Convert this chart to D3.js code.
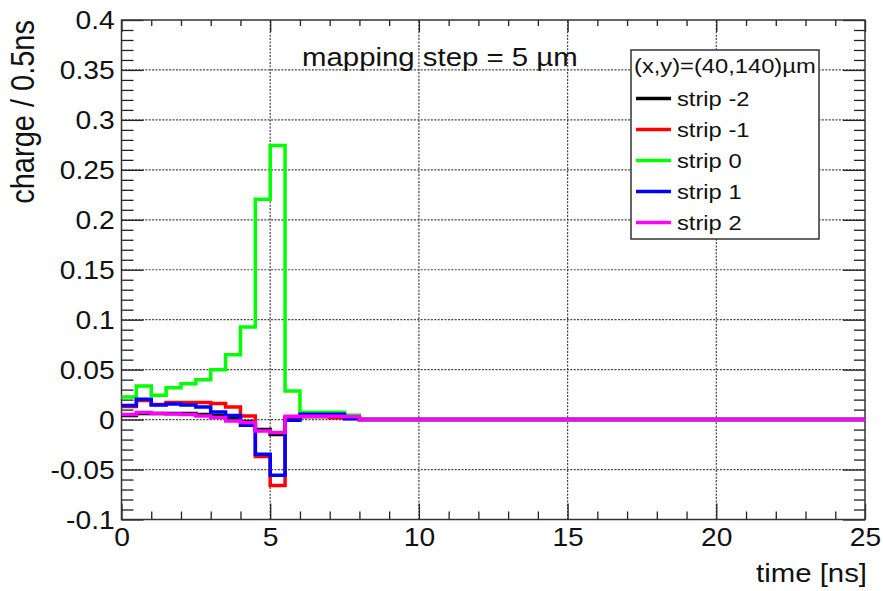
<!DOCTYPE html>
<html>
<head>
<meta charset="utf-8">
<script src="https://cdn.jsdelivr.net/npm/d3@7"></script>
<style>
  body { margin: 0; background: #fff; }
  text { font-family: "Liberation Sans", Arial, sans-serif; fill: #111; }
</style>
</head>
<body>
<div class="chart"></div>
<script>
// histogram contents, one value per 0.5 ns bin (0..25 ns)
const binWidth = 0.5;
const stripNames = ["strip -2", "strip -1", "strip 0", "strip 1", "strip 2"];
const stripColors = ["#000000", "#ff0000", "#00ff00", "#0000ff", "#ff00ff"];

const stripM2 = [0.004, 0.006, 0.006, 0.006, 0.006, 0.005, 0.004, 0.001, -0.002, -0.010,
  -0.015, 0.002, 0.003, 0.003, 0.002, 0.001, 0, 0, 0, 0,
  0, 0, 0, 0, 0, 0, 0, 0, 0, 0,
  0, 0, 0, 0, 0, 0, 0, 0, 0, 0,
  0, 0, 0, 0, 0, 0, 0, 0, 0, 0];
const stripM1 = [0.013, 0.019, 0.015, 0.017, 0.017, 0.017, 0.016, 0.0126, 0.0036, -0.037,
  -0.066, 0.001, 0.003, 0.003, 0.002, 0.001, 0, 0, 0, 0,
  0, 0, 0, 0, 0, 0, 0, 0, 0, 0,
  0, 0, 0, 0, 0, 0, 0, 0, 0, 0,
  0, 0, 0, 0, 0, 0, 0, 0, 0, 0];
const strip0 = [0.0226, 0.0336, 0.0243, 0.032, 0.036, 0.040, 0.050, 0.065, 0.0926, 0.2206,
  0.2743, 0.0286, 0.0073, 0.0073, 0.0073, 0.0043, 0, 0, 0, 0,
  0, 0, 0, 0, 0, 0, 0, 0, 0, 0,
  0, 0, 0, 0, 0, 0, 0, 0, 0, 0,
  0, 0, 0, 0, 0, 0, 0, 0, 0, 0];
const stripP1 = [0.014, 0.0203, 0.0145, 0.0155, 0.0145, 0.0126, 0.0076, 0.004, -0.0057, -0.0347,
  -0.0557, -0.0007, 0.0053, 0.0053, 0.0053, 0.001, 0, 0, 0, 0,
  0, 0, 0, 0, 0, 0, 0, 0, 0, 0,
  0, 0, 0, 0, 0, 0, 0, 0, 0, 0,
  0, 0, 0, 0, 0, 0, 0, 0, 0, 0];
const stripP2 = [0.005, 0.007, 0.006, 0.0055, 0.005, 0.0035, 0.002, -0.0015, -0.003, -0.0113,
  -0.013, 0.0033, 0.0033, 0.0033, 0.0033, 0.003, 0, 0, 0, 0,
  0, 0, 0, 0, 0, 0, 0, 0, 0, 0,
  0, 0, 0, 0, 0, 0, 0, 0, 0, 0,
  0, 0, 0, 0, 0, 0, 0, 0, 0, 0];

const xMajor = [0, 5, 10, 15, 20, 25];
const xMinor = [1, 2, 3, 4, 6, 7, 8, 9, 11, 12, 13, 14, 16, 17, 18, 19, 21, 22, 23, 24];
const yMajor = [-0.1, -0.05, 0, 0.05, 0.1, 0.15, 0.2, 0.25, 0.3, 0.35, 0.4];
const yMinor = [-0.09, -0.08, -0.07, -0.06, -0.04, -0.03, -0.02, -0.01,
  0.01, 0.02, 0.03, 0.04, 0.06, 0.07, 0.08, 0.09, 0.11, 0.12, 0.13, 0.14,
  0.16, 0.17, 0.18, 0.19, 0.21, 0.22, 0.23, 0.24, 0.26, 0.27, 0.28, 0.29,
  0.31, 0.32, 0.33, 0.34, 0.36, 0.37, 0.38, 0.39];

const series = [stripM2, stripM1, strip0, stripP1, stripP2];

// the original picture is a bit wider than tall, text is stretched the same way
const stretch = "scale(1.13,1)";

const width = 883, height = 591;
const margin = {top: 20, right: 18, bottom: 71.5, left: 121.5};

const svg = d3.select(".chart").append("svg")
  .attr("width", width)
  .attr("height", height);

svg.append("rect").attr("width", width).attr("height", height).attr("fill", "#fff");

const x = d3.scaleLinear().domain([0, 25]).range([margin.left, width - margin.right]);
const y = d3.scaleLinear().domain([-0.1, 0.4]).range([height - margin.bottom, margin.top]);

// grid
const grid = svg.append("g")
  .attr("stroke", "#444")
  .attr("stroke-width", 1.2)
  .attr("stroke-dasharray", "2,1.4");
grid.selectAll(".gx").data(xMajor.slice(1, -1)).join("line")
  .attr("x1", d => x(d)).attr("x2", d => x(d))
  .attr("y1", y(-0.1)).attr("y2", y(0.4));
grid.selectAll(".gy").data(yMajor.slice(1, -1)).join("line")
  .attr("x1", x(0)).attr("x2", x(25))
  .attr("y1", d => y(d)).attr("y2", d => y(d));

// axes, ROOT style: ticks pointing inside
const fmt = d => String(+d.toFixed(2));

function styleAxis(g) {
  g.select(".domain").remove();
  g.selectAll("line").attr("stroke", "#222").attr("stroke-width", 1.3);
}

svg.append("g").attr("transform", `translate(0,${y(-0.1)})`)
  .call(d3.axisBottom(x).tickValues(xMinor).tickSize(-8).tickFormat(""))
  .call(styleAxis);
svg.append("g").attr("transform", `translate(0,${y(-0.1)})`)
  .call(d3.axisBottom(x).tickValues(xMajor).tickSize(-16).tickPadding(9).tickFormat(fmt))
  .call(styleAxis)
  .call(g => g.selectAll("text")
    .attr("font-size", 25)
    .attr("transform", stretch));

svg.append("g").attr("transform", `translate(0,${y(0.4)})`)
  .call(d3.axisTop(x).tickValues(xMinor).tickSize(-6).tickFormat(""))
  .call(styleAxis);
svg.append("g").attr("transform", `translate(0,${y(0.4)})`)
  .call(d3.axisTop(x).tickValues(xMajor).tickSize(-12).tickFormat(""))
  .call(styleAxis);

svg.append("g").attr("transform", `translate(${x(0)},0)`)
  .call(d3.axisLeft(y).tickValues(yMinor).tickSize(-12).tickFormat(""))
  .call(styleAxis);
svg.append("g").attr("transform", `translate(${x(0)},0)`)
  .call(d3.axisLeft(y).tickValues(yMajor).tickSize(-22).tickPadding(6).tickFormat(fmt))
  .call(styleAxis)
  .call(g => g.selectAll("text")
    .attr("font-size", 25)
    .attr("dy", "0.34em")
    .attr("transform", stretch));

svg.append("g").attr("transform", `translate(${x(25)},0)`)
  .call(d3.axisRight(y).tickValues(yMinor).tickSize(-11).tickFormat(""))
  .call(styleAxis);
svg.append("g").attr("transform", `translate(${x(25)},0)`)
  .call(d3.axisRight(y).tickValues(yMajor).tickSize(-22).tickFormat(""))
  .call(styleAxis);

// frame
svg.append("rect")
  .attr("x", x(0)).attr("y", y(0.4))
  .attr("width", x(25) - x(0)).attr("height", y(-0.1) - y(0.4))
  .attr("fill", "none").attr("stroke", "#333").attr("stroke-width", 1.5);

// histograms as step outlines
const line = d3.line()
  .x(d => x(d[0]))
  .y(d => y(d[1]))
  .curve(d3.curveStepAfter);

series.forEach(function(vals, k) {
  const pts = vals.map((v, i) => [i * binWidth, v]);
  pts.push([vals.length * binWidth, vals[vals.length - 1]]);
  svg.append("path")
    .datum(pts)
    .attr("fill", "none")
    .attr("stroke", stripColors[k])
    .attr("stroke-width", 3.5)
    .attr("d", line);
});

// titles
svg.append("text")
  .attr("transform", `translate(867,582) ${stretch}`)
  .attr("text-anchor", "end")
  .attr("font-size", 26)
  .text("time [ns]");

svg.append("text")
  .attr("transform", `translate(34,20) ${stretch} rotate(-90)`)
  .attr("text-anchor", "end")
  .attr("font-size", 29)
  .text("charge / 0.5ns");

svg.append("text")
  .attr("transform", `translate(302,66) ${stretch}`)
  .attr("font-size", 26)
  .text("mapping step = 5 µm");

// legend
const legend = svg.append("g").attr("transform", "translate(631,50)");
legend.append("rect")
  .attr("width", 188).attr("height", 189)
  .attr("fill", "#fff").attr("stroke", "#333").attr("stroke-width", 1.5);
legend.append("text")
  .attr("transform", `translate(3,23) ${stretch}`)
  .attr("font-size", 21)
  .text("(x,y)=(40,140)µm");

const entry = legend.selectAll(".entry")
  .data(stripNames)
  .join("g")
  .attr("transform", (d, i) => `translate(0,${48.5 + i * 31})`);
entry.append("line")
  .attr("x1", 5).attr("x2", 40)
  .attr("stroke", (d, i) => stripColors[i])
  .attr("stroke-width", 3.5);
entry.append("text")
  .attr("transform", `translate(46,7) ${stretch}`)
  .attr("font-size", 21)
  .text(d => d);
</script>
</body>
</html>
